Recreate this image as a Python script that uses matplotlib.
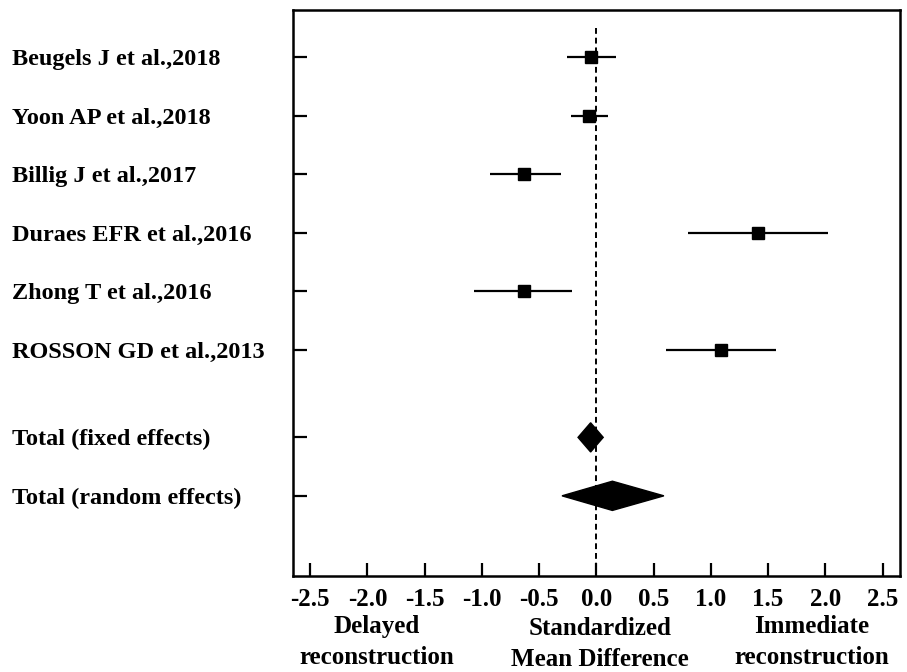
import numpy as np
import matplotlib.pyplot as plt
from matplotlib.patches import Polygon

plt.rcParams['font.family'] = 'Liberation Serif'
plt.rcParams['font.weight'] = 'bold'

# study estimates (standardized mean difference, 95% CI)
studies = ["Beugels J et al.,2018", "Yoon AP et al.,2018", "Billig J et al.,2017",
           "Duraes EFR et al.,2016", "Zhong T et al.,2016", "ROSSON GD et al.,2013"]
smd = [-0.05, -0.06, -0.63, 1.41, -0.63, 1.09]
ci_low = [-0.26, -0.22, -0.93, 0.80, -1.07, 0.61]
ci_high = [0.17, 0.10, -0.31, 2.02, -0.21, 1.57]

# pooled estimates
totals = ["Total (fixed effects)", "Total (random effects)"]
total_smd = [-0.05, 0.14]
total_low = [-0.16, -0.30]
total_high = [0.06, 0.59]

xticks = [-2.5, -2.0, -1.5, -1.0, -0.5, 0.0, 0.5, 1.0, 1.5, 2.0, 2.5]

study_y = np.arange(1, len(studies) + 1)
total_y = np.array([7.5, 8.5])

fig = plt.figure(figsize=(9.07, 6.72), dpi=100)
ax = fig.add_axes([0.323, 0.143, 0.669, 0.842])

ax.hlines(study_y, ci_low, ci_high, color='black', linewidth=1.6, zorder=3)
ax.plot(smd, study_y, 's', color='black', markersize=8.5, zorder=4)

# diamonds for pooled effects
h = 0.25
for m, lo, hi, y in zip(total_smd, total_low, total_high, total_y):
    ax.add_patch(Polygon([[lo, y], [m, y - h], [hi, y], [m, y + h]],
                         closed=True, facecolor='black', edgecolor='black', zorder=4))

ax.set_xlim(-2.65, 2.65)
ax.set_ylim(9.87, 0.19)
ax.vlines(0, 0.5, 9.87, color='black', linestyle=(0, (3, 2)), linewidth=1.4, zorder=2)

ax.set_xticks(xticks)
ax.set_xticklabels([f"{t:.1f}" for t in xticks], fontsize=18, fontweight='bold')
ax.set_yticks(np.concatenate([study_y, total_y]))
ax.set_yticklabels(studies + totals, fontsize=17.5, fontweight='bold', ha='left')
ax.tick_params(axis='x', direction='in', length=9.5, width=1.6, pad=9)
ax.tick_params(axis='y', direction='in', length=10, width=1.6, pad=202)
for s in ax.spines.values():
    s.set_linewidth(1.8)

# bottom captions
fig.text(377 / 907, 1 - 664 / 672, "Delayed\nreconstruction", ha='center', va='baseline',
         fontsize=18, fontweight='bold', linespacing=1.45)
fig.text(600 / 907, 1 - 666 / 672, "Standardized\nMean Difference", ha='center', va='baseline',
         fontsize=18, fontweight='bold', linespacing=1.45)
fig.text(812 / 907, 1 - 664 / 672, "Immediate\nreconstruction", ha='center', va='baseline',
         fontsize=18, fontweight='bold', linespacing=1.45)

fig.savefig("out.png", dpi=100)
